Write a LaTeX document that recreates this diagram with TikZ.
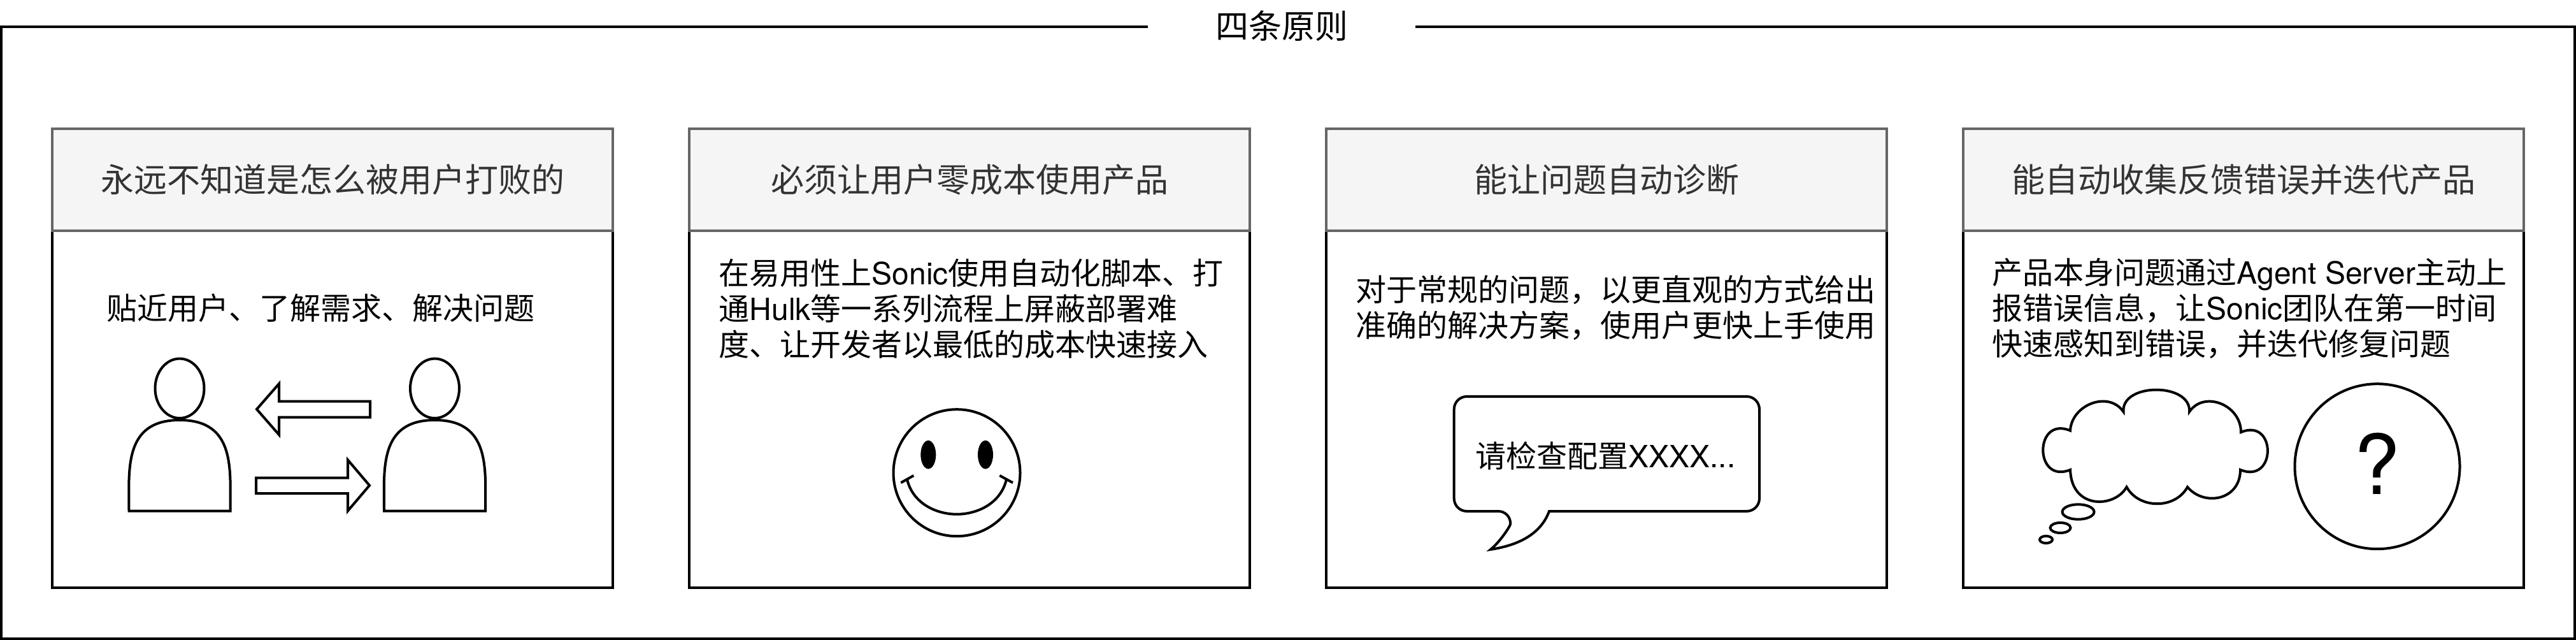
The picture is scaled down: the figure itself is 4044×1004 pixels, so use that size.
\documentclass[tikz,border=0pt]{standalone}
\usepackage{fontspec}
\setmainfont{TeX Gyre Heros}
\newfontfamily\cjk{Noto Sans CJK SC}
\usetikzlibrary{positioning}
\definecolor{headfill}{HTML}{F5F5F5}
\definecolor{headline}{HTML}{666666}
\definecolor{headtext}{HTML}{333333}
\newcommand{\lat}[1]{{\rmfamily #1}}
\tikzstyle{shapeline} = [draw=black, line width=1pt, fill=white]
\tikzstyle{outerbox} = [rectangle, draw=black, line width=1pt, fill=white, outer sep=0pt, minimum width=1010pt, minimum height=240pt]
\tikzstyle{titletext} = [fill=white, text=black, inner sep=0pt, minimum width=105pt, minimum height=20pt, font=\cjk\fontsize{13}{16}\selectfont]
\tikzstyle{panelbody} = [rectangle, draw=black, line width=1pt, fill=white, outer sep=0pt, minimum width=220pt, minimum height=140pt]
\tikzstyle{panelhead} = [rectangle, draw=headline, line width=1pt, fill=headfill, text=headtext, outer sep=0pt, minimum width=220pt, minimum height=40pt, font=\cjk\fontsize{13}{16}\selectfont]
\tikzstyle{bodytext} = [anchor=west, align=left, inner sep=0pt, text=black, font=\cjk\fontsize{12}{14}\selectfont]
\tikzset{person/.pic={
  \draw[shapeline] (0,-192.2) ellipse [x radius=38.5, y radius=46.7];
  \draw[shapeline] (-79.5,0) .. controls (-79.5,-65) and (-88,-142.5) .. (0,-142.5)
    .. controls (88,-142.5) and (79.5,-65) .. (79.5,0) -- cycle;
}}

\begin{document}
\begin{tikzpicture}[x=0.25pt, y=-0.25pt]
\useasboundingbox (0,0) rectangle (4044,1004);

% frame ==================================
\node[outerbox] (frame) at (2022,522) {};
\node[titletext] (title) at (2012,41) {四条原则};

% panels =================================
\node[panelbody] (body1) at (522,642) {};
\node[panelbody, right=30pt of body1] (body2) {};
\node[panelbody, right=30pt of body2] (body3) {};
\node[panelbody, right=30pt of body3] (body4) {};

\node[panelhead, above=0pt of body1] (head1) {永远不知道是怎么被用户打败的};
\node[panelhead, above=0pt of body2] (head2) {必须让用户零成本使用产品};
\node[panelhead, above=0pt of body3] (head3) {能让问题自动诊断};
\node[panelhead, above=0pt of body4] (head4) {能自动收集反馈错误并迭代产品};

% panel texts
\node[bodytext] (text1) at ([shift={(85,121)}]body1.north west) {贴近用户、了解需求、解决问题};
\node[bodytext] (text2) at ([shift={(46,122)}]body2.north west) {在易用性上\lat{Sonic}使用自动化脚本、打\\通\lat{Hulk}等一系列流程上屏蔽部署难\\度、让开发者以最低的成本快速接入};
\node[bodytext] (text3) at ([shift={(46,121)}]body3.north west) {对于常规的问题，以更直观的方式给出\\准确的解决方案，使用户更快上手使用};
\node[bodytext] (text4) at ([shift={(45,122)}]body4.north west) {产品本身问题通过\lat{Agent Server}主动上\\报错误信息，让\lat{Sonic}团队在第一时间\\快速感知到错误，并迭代修复问题};

% panel 1: two persons and arrows
\pic at (282,801.5) {person};
\pic at (682.5,801.5) {person};
\draw[shapeline] (581,629.5) -- (438,629.5) -- (438,602) -- (403,642) -- (438,682) -- (438,654.5) -- (581,654.5) -- cycle;
\draw[shapeline] (402,749.5) -- (546,749.5) -- (546,721.5) -- (580,761.5) -- (546,801.5) -- (546,774) -- (402,774) -- cycle;

% panel 2: smiley
\draw[shapeline] (1502,741.7) circle [radius=99.5];
\fill (1457.3,713.3) ellipse [x radius=12, y radius=22.3];
\fill (1547,713.3) ellipse [x radius=12, y radius=22.3];
\draw[shapeline, fill=none] (1424,752) .. controls (1433,790) and (1470,806.7) .. (1502,806.7) .. controls (1534,806.7) and (1571,790) .. (1580,752);
\draw[shapeline, fill=none] (1414.3,757.3) -- (1434.3,746);
\draw[shapeline, fill=none] (1569.3,746) -- (1590,757.3);

% panel 3: speech bubble
\draw[shapeline] (2432,802) [rounded corners=5pt] -- (2762,802) -- (2762,622) -- (2282.7,622) -- (2282.7,802) -- (2372,802) [sharp corners]
  .. controls (2371,825) and (2355,850) .. (2340,862) .. controls (2380,856) and (2418,840) .. (2432,802) -- cycle;
\node[bodytext, anchor=center] (hint) at (2520.5,715) {请检查配置\lat{XXXX...}};

% panel 4: thought cloud and question mark
\draw[shapeline] (3250,675.5) .. controls (3252,635) and (3310,612) .. (3333.5,646)
  .. controls (3330,600) and (3440,600) .. (3437,646)
  .. controls (3460,612) and (3518,635) .. (3518,678)
  .. controls (3574,655) and (3574,760) .. (3517,737)
  .. controls (3517,785) and (3460,795) .. (3434,764)
  .. controls (3415,799) and (3358,799) .. (3338.5,764)
  .. controls (3320,797) and (3252,800) .. (3250,737)
  .. controls (3193,760) and (3193,652) .. (3250,675.5) -- cycle;
\draw[shapeline] (3262.5,803) ellipse [x radius=25, y radius=11.7];
\draw[shapeline] (3234.5,828) ellipse [x radius=16, y radius=8];
\draw[shapeline] (3212,846.5) ellipse [x radius=10, y radius=5.6];
\node[circle, shapeline, inner sep=0pt, minimum size=64.75pt, text depth=2pt, font=\fontsize{32.5}{36}\selectfont] (ask) at (3732,731.7) {?};

\end{tikzpicture}
\end{document}
